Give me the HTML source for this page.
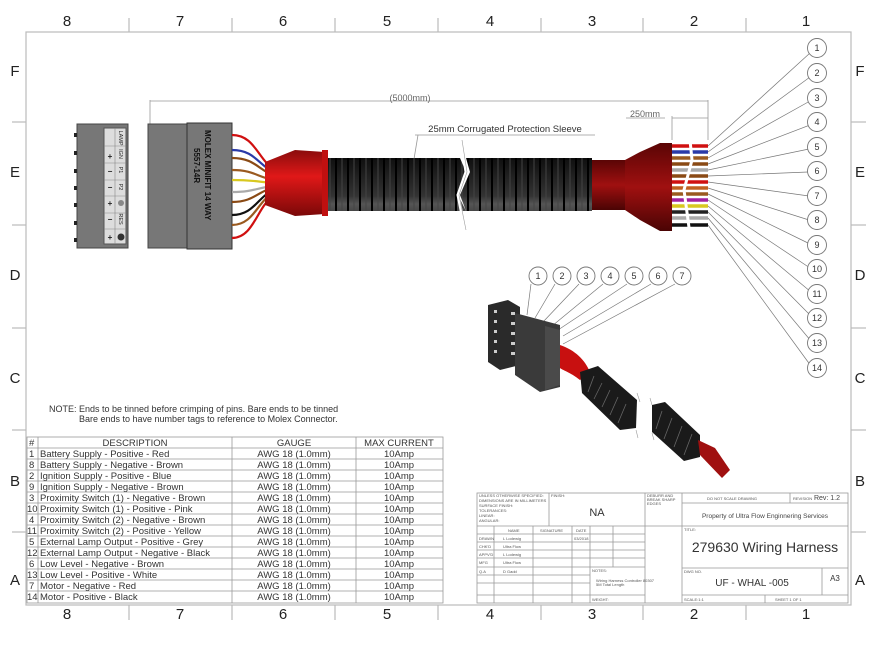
<!DOCTYPE html>
<html><head><meta charset="utf-8"><style>
body{margin:0;background:#fff;}
svg{display:block;font-family:"Liberation Sans",sans-serif;}
</style></head><body>
<svg width="875" height="659" viewBox="0 0 875 659" xmlns="http://www.w3.org/2000/svg">
<defs>
<linearGradient id="blk" x1="0" y1="0" x2="0" y2="1"><stop offset="0" stop-color="#111"/><stop offset="0.45" stop-color="#333"/><stop offset="0.55" stop-color="#555"/><stop offset="1" stop-color="#0a0a0a"/></linearGradient>
<linearGradient id="red" x1="0" y1="0" x2="0" y2="1"><stop offset="0" stop-color="#8a0c0c"/><stop offset="0.4" stop-color="#e01818"/><stop offset="1" stop-color="#7a0808"/></linearGradient>
<linearGradient id="dred" x1="0" y1="0" x2="0" y2="1"><stop offset="0" stop-color="#5a0505"/><stop offset="0.5" stop-color="#a01010"/><stop offset="1" stop-color="#4a0404"/></linearGradient>
<pattern id="corr" x="325" y="0" width="12" height="80" patternUnits="userSpaceOnUse"><rect width="12" height="80" fill="url(#blk)"/><line x1="11" y1="0" x2="11" y2="80" stroke="#000" stroke-width="2"/><line x1="5" y1="0" x2="5" y2="80" stroke="#444" stroke-width="1"/></pattern>
</defs>
<rect width="875" height="659" fill="#fff"/>
<g stroke="#bbb" fill="none" stroke-width="1.2">
<rect x="26" y="32" width="825" height="573"/>
<line x1="129" y1="18" x2="129" y2="32"/><line x1="232" y1="18" x2="232" y2="32"/><line x1="335" y1="18" x2="335" y2="32"/><line x1="438" y1="18" x2="438" y2="32"/><line x1="541" y1="18" x2="541" y2="32"/><line x1="643" y1="18" x2="643" y2="32"/><line x1="746" y1="18" x2="746" y2="32"/>
<line x1="129" y1="605" x2="129" y2="620"/><line x1="232" y1="605" x2="232" y2="620"/><line x1="335" y1="605" x2="335" y2="620"/><line x1="438" y1="605" x2="438" y2="620"/><line x1="541" y1="605" x2="541" y2="620"/><line x1="643" y1="605" x2="643" y2="620"/><line x1="746" y1="605" x2="746" y2="620"/>
<line x1="12" y1="122" x2="26" y2="122"/><line x1="12" y1="225" x2="26" y2="225"/><line x1="12" y1="328" x2="26" y2="328"/><line x1="12" y1="430" x2="26" y2="430"/><line x1="12" y1="532" x2="26" y2="532"/>
<line x1="851" y1="122" x2="866" y2="122"/><line x1="851" y1="225" x2="866" y2="225"/><line x1="851" y1="328" x2="866" y2="328"/><line x1="851" y1="430" x2="866" y2="430"/><line x1="851" y1="532" x2="866" y2="532"/>
</g>
<g font-size="15" fill="#222" text-anchor="middle">
<text x="67" y="26">8</text><text x="180" y="26">7</text><text x="283" y="26">6</text><text x="387" y="26">5</text><text x="490" y="26">4</text><text x="592" y="26">3</text><text x="694" y="26">2</text><text x="806" y="26">1</text>
<text x="67" y="619">8</text><text x="180" y="619">7</text><text x="283" y="619">6</text><text x="387" y="619">5</text><text x="490" y="619">4</text><text x="592" y="619">3</text><text x="694" y="619">2</text><text x="806" y="619">1</text>
<text x="15" y="76">F</text><text x="15" y="177">E</text><text x="15" y="280">D</text><text x="15" y="383">C</text><text x="15" y="486">B</text><text x="15" y="585">A</text>
<text x="860" y="76">F</text><text x="860" y="177">E</text><text x="860" y="280">D</text><text x="860" y="383">C</text><text x="860" y="486">B</text><text x="860" y="585">A</text>
</g>
<g stroke="#999" fill="none" stroke-width="0.8">
<line x1="150" y1="101" x2="708" y2="101"/><line x1="150" y1="100" x2="150" y2="125"/><line x1="708" y1="100" x2="708" y2="140"/>
<line x1="672" y1="118" x2="708" y2="118"/><line x1="626" y1="118" x2="665" y2="118"/><line x1="672" y1="116" x2="672" y2="140"/>
<line x1="415" y1="135" x2="595" y2="135"/><line x1="418" y1="135" x2="413" y2="165"/>
</g>
<text x="410" y="101" font-size="9" fill="#666" text-anchor="middle">(5000mm)</text>
<text x="645" y="117" font-size="9" fill="#666" text-anchor="middle">250mm</text>
<text x="505" y="132" font-size="9.5" fill="#333" text-anchor="middle">25mm Corrugated Protection Sleeve</text>
<rect x="77" y="124" width="51" height="124" fill="#777" stroke="#444"/>
<rect x="104" y="128" width="22" height="116" fill="#ddd" stroke="#555"/>
<g font-size="8" font-weight="bold" fill="#222" text-anchor="middle">
<text x="110" y="159">+</text><text x="110" y="174">−</text><text x="110" y="190">−</text><text x="110" y="206">+</text><text x="110" y="222">−</text><text x="110" y="240">+</text></g>
<g font-size="5.5" fill="#222" text-anchor="middle">
<text transform="translate(119,154) rotate(90)">IGN</text><text transform="translate(119,170) rotate(90)">P1</text><text transform="translate(119,187) rotate(90)">P2</text><text transform="translate(119,219) rotate(90)">RES</text><text transform="translate(119,138) rotate(90)">LAMP</text>
<circle cx="121" cy="237" r="3.5" fill="#333"/><circle cx="121" cy="203" r="3" fill="#888"/></g>
<g stroke="#888" stroke-width="0.6"><line x1="104" y1="146" x2="126" y2="146"/><line x1="104" y1="163" x2="126" y2="163"/><line x1="104" y1="180" x2="126" y2="180"/><line x1="104" y1="196" x2="126" y2="196"/><line x1="104" y1="213" x2="126" y2="213"/><line x1="104" y1="229" x2="126" y2="229"/><line x1="115" y1="128" x2="115" y2="244"/></g>
<g fill="#222"><rect x="74" y="133" width="3" height="4"/><rect x="74" y="151" width="3" height="4"/><rect x="74" y="169" width="3" height="4"/><rect x="74" y="186" width="3" height="4"/><rect x="74" y="203" width="3" height="4"/><rect x="74" y="221" width="3" height="4"/><rect x="74" y="238" width="3" height="4"/></g>
<rect x="148" y="124" width="40" height="124" fill="#777" stroke="#444"/>
<rect x="187" y="123" width="45" height="126" fill="#777" stroke="#333"/>
<text transform="translate(205,130) rotate(90)" font-size="8" font-weight="bold" fill="#111">MOLEX MINIFIT 14 WAY</text>
<text transform="translate(194,148) rotate(90)" font-size="8" font-weight="bold" fill="#111">5557-14R</text>
<g fill="none" stroke-width="2.2">
<path d="M232 135 C255 135 258 160 275 170" stroke="#d01010"/>
<path d="M232 150 C255 150 258 165 275 173" stroke="#2a3aa8"/>
<path d="M232 158 C255 158 258 170 275 176" stroke="#8a4a15"/>
<path d="M232 170 C255 170 258 178 275 180" stroke="#9a5a20"/>
<path d="M232 180 C255 180 258 182 275 183" stroke="#d8c820"/>
<path d="M232 192 C255 192 258 187 275 186" stroke="#aaa"/>
<path d="M232 202 C255 202 258 190 275 188" stroke="#8a4a15"/>
<path d="M232 215 C255 215 258 195 275 190" stroke="#111"/>
<path d="M232 225 C255 225 258 198 275 193" stroke="#9a5a20"/>
<path d="M232 238 C255 238 258 202 275 196" stroke="#d01010"/>
</g>
<path d="M265 162 L295 150 L325 152 L325 214 L295 216 L265 205 Z" fill="url(#red)"/>
<rect x="322" y="150" width="6" height="66" fill="#c01010"/>
<path d="M328 158 L460 158 L466 172 L458 195 L466 211 L328 211 Z" fill="url(#corr)"/>
<path d="M466 158 L592 158 L592 211 L466 211 L460 195 L470 172 Z" fill="url(#corr)"/>
<path d="M461 140 L466 172 L458 195 L465 230" stroke="#fff" stroke-width="3" fill="none"/>
<path d="M462 140 L467 172 L459 195 L466 230" stroke="#999" stroke-width="0.6" fill="none"/>
<rect x="592" y="160" width="35" height="50" fill="url(#dred)"/>
<path d="M625 160 L640 152 L660 143 L672 143 L672 231 L660 231 L640 220 L625 210 Z" fill="url(#dred)"/>
<g stroke-width="3.6">
<line x1="672" y1="146" x2="708" y2="146" stroke="#d01010"/>
<line x1="672" y1="152" x2="708" y2="152" stroke="#2a3aa8"/>
<line x1="672" y1="158" x2="708" y2="158" stroke="#9a5a20"/>
<line x1="672" y1="164" x2="708" y2="164" stroke="#8a4a15"/>
<line x1="672" y1="170" x2="708" y2="170" stroke="#aaa"/>
<line x1="672" y1="176" x2="708" y2="176" stroke="#8a4a15"/>
<line x1="672" y1="182" x2="708" y2="182" stroke="#d01010"/>
<line x1="672" y1="188" x2="708" y2="188" stroke="#c06020"/>
<line x1="672" y1="194" x2="708" y2="194" stroke="#9a5a20"/>
<line x1="672" y1="200" x2="708" y2="200" stroke="#a020a0"/>
<line x1="672" y1="206" x2="708" y2="206" stroke="#d8c820"/>
<line x1="672" y1="212" x2="708" y2="212" stroke="#222"/>
<line x1="672" y1="218" x2="708" y2="218" stroke="#aaa"/>
<line x1="672" y1="225" x2="708" y2="225" stroke="#111"/>
</g>
<path d="M690 140 L692 160 L684 190 L690 235" stroke="#fff" stroke-width="3" fill="none"/>
<g stroke="#777" stroke-width="0.7" fill="none">
<line x1="708" y1="146" x2="810" y2="53"/><line x1="708" y1="152" x2="810" y2="77"/><line x1="708" y1="158" x2="810" y2="101"/><line x1="708" y1="164" x2="810" y2="125"/><line x1="708" y1="170" x2="809" y2="149"/><line x1="708" y1="176" x2="808" y2="172"/><line x1="708" y1="182" x2="809" y2="196"/><line x1="708" y1="188" x2="809" y2="220"/><line x1="708" y1="194" x2="810" y2="244"/><line x1="708" y1="200" x2="810" y2="268"/><line x1="708" y1="206" x2="811" y2="292"/><line x1="708" y1="212" x2="811" y2="316"/><line x1="708" y1="218" x2="811" y2="341"/><line x1="708" y1="225" x2="811" y2="366"/>
</g>
<g fill="#fff" stroke="#777" stroke-width="0.9">
<circle cx="817" cy="48" r="9.5"/><circle cx="817" cy="73" r="9.5"/><circle cx="817" cy="98" r="9.5"/><circle cx="817" cy="122" r="9.5"/><circle cx="817" cy="147" r="9.5"/><circle cx="817" cy="171" r="9.5"/><circle cx="817" cy="196" r="9.5"/><circle cx="817" cy="220" r="9.5"/><circle cx="817" cy="245" r="9.5"/><circle cx="817" cy="269" r="9.5"/><circle cx="817" cy="294" r="9.5"/><circle cx="817" cy="318" r="9.5"/><circle cx="817" cy="343" r="9.5"/><circle cx="817" cy="368" r="9.5"/>
</g>
<g font-size="9" fill="#333" text-anchor="middle">
<text x="817" y="51">1</text><text x="817" y="76">2</text><text x="817" y="101">3</text><text x="817" y="125">4</text><text x="817" y="150">5</text><text x="817" y="174">6</text><text x="817" y="199">7</text><text x="817" y="223">8</text><text x="817" y="248">9</text><text x="817" y="272">10</text><text x="817" y="297">11</text><text x="817" y="321">12</text><text x="817" y="346">13</text><text x="817" y="371">14</text>
</g>
<g stroke="#777" stroke-width="0.7" fill="none">
<line x1="531" y1="284" x2="527" y2="315"/><line x1="555" y1="284" x2="535" y2="318"/><line x1="579" y1="284" x2="543" y2="322"/><line x1="603" y1="284" x2="552" y2="326"/><line x1="627" y1="284" x2="558" y2="330"/><line x1="651" y1="284" x2="563" y2="336"/><line x1="675" y1="284" x2="563" y2="344"/>
</g>
<g fill="#fff" stroke="#777" stroke-width="0.9">
<circle cx="538" cy="276" r="9"/><circle cx="562" cy="276" r="9"/><circle cx="586" cy="276" r="9"/><circle cx="610" cy="276" r="9"/><circle cx="634" cy="276" r="9"/><circle cx="658" cy="276" r="9"/><circle cx="682" cy="276" r="9"/>
</g>
<g font-size="9" fill="#333" text-anchor="middle"><text x="538" y="279">1</text><text x="562" y="279">2</text><text x="586" y="279">3</text><text x="610" y="279">4</text><text x="634" y="279">5</text><text x="658" y="279">6</text><text x="682" y="279">7</text></g>
<path d="M488 305 L508 300 L520 307 L520 365 L500 370 L488 362 Z" fill="#2a2a2a"/>
<path d="M515 313 L530 317 L560 325 L560 387 L540 392 L515 375 Z" fill="#3a3a3a"/>
<path d="M545 326 L560 330 L560 385 L545 390 Z" fill="#4a4a4a"/>
<g fill="#ccc"><rect x="494" y="310" width="3" height="3"/><rect x="494" y="320" width="3" height="3"/><rect x="494" y="330" width="3" height="3"/><rect x="494" y="340" width="3" height="3"/><rect x="494" y="350" width="3" height="3"/><rect x="511" y="312" width="4" height="3"/><rect x="511" y="322" width="4" height="3"/><rect x="511" y="332" width="4" height="3"/><rect x="511" y="342" width="4" height="3"/><rect x="511" y="352" width="4" height="3"/></g>
<path d="M560 345 C575 350 585 360 590 372 L580 380 C570 372 562 370 560 368 Z" fill="#c81010"/>
<path d="M580 372 L598 366 L637 400 L636 428 L620 430 L582 393 Z" fill="#1a1a1a"/>
<path d="M652 405 L665 402 L700 435 L700 457 L684 461 L652 432 Z" fill="#1a1a1a"/>
<path d="M698 440 L715 448 L730 470 L722 478 L700 455 Z" fill="#a01010"/>
<g stroke="#666" stroke-width="0.8"><line x1="594" y1="376" x2="588" y2="392"/><line x1="602" y1="383" x2="594" y2="399"/><line x1="610" y1="390" x2="602" y2="407"/><line x1="618" y1="397" x2="610" y2="415"/><line x1="626" y1="404" x2="618" y2="423"/><line x1="662" y1="411" x2="656" y2="429"/><line x1="672" y1="418" x2="664" y2="439"/><line x1="682" y1="426" x2="674" y2="447"/><line x1="692" y1="434" x2="684" y2="455"/></g>
<g stroke="#999" stroke-width="0.6"><line x1="637" y1="393" x2="640" y2="402"/><line x1="636" y1="430" x2="638" y2="438"/><line x1="650" y1="398" x2="652" y2="405"/><line x1="652" y1="433" x2="654" y2="440"/></g>
<text x="49" y="412" font-size="9" fill="#333">NOTE: Ends to be tinned before crimping of pins. Bare ends to be tinned</text>
<text x="79" y="422" font-size="9" fill="#333">Bare ends to have number tags to reference to Molex Connector.</text>
<g stroke="#999" stroke-width="0.8" fill="none">
<rect x="27" y="437" width="416" height="166"/>
<line x1="38" y1="437" x2="38" y2="603"/><line x1="232" y1="437" x2="232" y2="603"/><line x1="356" y1="437" x2="356" y2="603"/>
<line x1="27" y1="448" x2="443" y2="448"/><line x1="27" y1="459" x2="443" y2="459"/><line x1="27" y1="470" x2="443" y2="470"/><line x1="27" y1="481" x2="443" y2="481"/><line x1="27" y1="492" x2="443" y2="492"/><line x1="27" y1="503" x2="443" y2="503"/><line x1="27" y1="514" x2="443" y2="514"/><line x1="27" y1="525" x2="443" y2="525"/><line x1="27" y1="536" x2="443" y2="536"/><line x1="27" y1="547" x2="443" y2="547"/><line x1="27" y1="558" x2="443" y2="558"/><line x1="27" y1="569" x2="443" y2="569"/><line x1="27" y1="580" x2="443" y2="580"/><line x1="27" y1="591" x2="443" y2="591"/>
</g>
<g font-size="9.5" fill="#333">
<text x="29" y="446">#</text><text x="135" y="446" text-anchor="middle">DESCRIPTION</text><text x="294" y="446" text-anchor="middle">GAUGE</text><text x="399" y="446" text-anchor="middle">MAX CURRENT</text>
<text x="29" y="457">1</text><text x="40" y="457">Battery Supply - Positive - Red</text>
<text x="29" y="468">8</text><text x="40" y="468">Battery Supply - Negative - Brown</text>
<text x="29" y="479">2</text><text x="40" y="479">Ignition Supply - Positive - Blue</text>
<text x="29" y="490">9</text><text x="40" y="490">Ignition Supply - Negative - Brown</text>
<text x="29" y="501">3</text><text x="40" y="501">Proximity Switch (1) - Negative - Brown</text>
<text x="27" y="512">10</text><text x="40" y="512">Proximity Switch (1) - Positive - Pink</text>
<text x="29" y="523">4</text><text x="40" y="523">Proximity Switch (2) - Negative - Brown</text>
<text x="27" y="534">11</text><text x="40" y="534">Proximity Switch (2) - Positive - Yellow</text>
<text x="29" y="545">5</text><text x="40" y="545">External Lamp Output - Positive - Grey</text>
<text x="27" y="556">12</text><text x="40" y="556">External Lamp Output - Negative - Black</text>
<text x="29" y="567">6</text><text x="40" y="567">Low Level - Negative - Brown</text>
<text x="27" y="578">13</text><text x="40" y="578">Low Level - Positive - White</text>
<text x="29" y="589">7</text><text x="40" y="589">Motor - Negative - Red</text>
<text x="27" y="600">14</text><text x="40" y="600">Motor - Positive - Black</text>
</g>
<g font-size="9.5" fill="#333" text-anchor="middle">
<text x="294" y="457">AWG 18 (1.0mm)</text><text x="294" y="468">AWG 18 (1.0mm)</text><text x="294" y="479">AWG 18 (1.0mm)</text><text x="294" y="490">AWG 18 (1.0mm)</text><text x="294" y="501">AWG 18 (1.0mm)</text><text x="294" y="512">AWG 18 (1.0mm)</text><text x="294" y="523">AWG 18 (1.0mm)</text><text x="294" y="534">AWG 18 (1.0mm)</text><text x="294" y="545">AWG 18 (1.0mm)</text><text x="294" y="556">AWG 18 (1.0mm)</text><text x="294" y="567">AWG 18 (1.0mm)</text><text x="294" y="578">AWG 18 (1.0mm)</text><text x="294" y="589">AWG 18 (1.0mm)</text><text x="294" y="600">AWG 18 (1.0mm)</text>
<text x="399" y="457">10Amp</text><text x="399" y="468">10Amp</text><text x="399" y="479">10Amp</text><text x="399" y="490">10Amp</text><text x="399" y="501">10Amp</text><text x="399" y="512">10Amp</text><text x="399" y="523">10Amp</text><text x="399" y="534">10Amp</text><text x="399" y="545">10Amp</text><text x="399" y="556">10Amp</text><text x="399" y="567">10Amp</text><text x="399" y="578">10Amp</text><text x="399" y="589">10Amp</text><text x="399" y="600">10Amp</text>
</g>
<g stroke="#999" stroke-width="0.8" fill="none">
<rect x="477" y="493" width="371" height="110"/>
<line x1="549" y1="493" x2="549" y2="526"/><line x1="645" y1="493" x2="645" y2="603"/><line x1="682" y1="493" x2="682" y2="603"/>
<line x1="682" y1="503" x2="848" y2="503"/><line x1="790" y1="493" x2="790" y2="503"/>
<line x1="477" y1="526" x2="848" y2="526"/><line x1="682" y1="568" x2="848" y2="568"/><line x1="682" y1="595" x2="848" y2="595"/><line x1="822" y1="568" x2="822" y2="595"/><line x1="765" y1="595" x2="765" y2="603"/>
<line x1="477" y1="534" x2="645" y2="534"/><line x1="477" y1="542" x2="645" y2="542"/><line x1="477" y1="550" x2="645" y2="550"/><line x1="477" y1="558" x2="645" y2="558"/><line x1="477" y1="567" x2="645" y2="567"/><line x1="477" y1="575" x2="590" y2="575"/><line x1="477" y1="583" x2="590" y2="583"/><line x1="477" y1="595" x2="645" y2="595"/>
<line x1="494" y1="526" x2="494" y2="603"/><line x1="533" y1="526" x2="533" y2="603"/><line x1="572" y1="526" x2="572" y2="603"/><line x1="590" y1="526" x2="590" y2="603"/><line x1="613" y1="526" x2="613" y2="567"/>
</g>
<g font-size="4" fill="#555">
<text x="479" y="497">UNLESS OTHERWISE SPECIFIED:</text><text x="479" y="502">DIMENSIONS ARE IN MILLIMETERS</text><text x="479" y="507">SURFACE FINISH:</text><text x="479" y="512">TOLERANCES:</text><text x="479" y="517">LINEAR:</text><text x="479" y="522">ANGULAR:</text>
<text x="551" y="497">FINISH:</text><text x="647" y="497">DEBURR AND</text><text x="647" y="501">BREAK SHARP</text><text x="647" y="505">EDGES</text>
<text x="707" y="500">DO NOT SCALE DRAWING</text><text x="793" y="500">REVISION</text>
<text x="684" y="531">TITLE:</text><text x="684" y="573">DWG NO.</text><text x="684" y="601">SCALE:1:1</text><text x="775" y="601">SHEET 1 OF 1</text>
<text x="508" y="532">NAME</text><text x="540" y="532">SIGNATURE</text><text x="576" y="532">DATE</text>
<text x="479" y="540">DRAWN</text><text x="503" y="540">L Lodewig</text><text x="574" y="540">03/2018</text>
<text x="479" y="548">CHK'D</text><text x="503" y="548">Ultra Flow</text>
<text x="479" y="556">APPV'D</text><text x="503" y="556">L Lodewig</text>
<text x="479" y="564">MFG</text><text x="503" y="564">Ultra Flow</text>
<text x="479" y="573">Q.A</text><text x="503" y="573">D Gadd</text>
<text x="592" y="572">NOTES:</text><text x="596" y="582">Wiring Harness Controller 80307</text><text x="596" y="586">5M Total Length</text>
<text x="592" y="601">WEIGHT:</text>
</g>
<text x="597" y="516" font-size="11" fill="#333" text-anchor="middle">NA</text>
<text x="827" y="500" font-size="7" fill="#444" text-anchor="middle">Rev: 1.2</text>
<text x="765" y="518" font-size="6.5" fill="#444" text-anchor="middle">Property of Ultra Flow Enginnering Services</text>
<text x="765" y="552" font-size="14" fill="#333" text-anchor="middle">279630 Wiring Harness</text>
<text x="752" y="586" font-size="10" fill="#333" text-anchor="middle">UF - WHAL -005</text>
<text x="835" y="581" font-size="8" fill="#333" text-anchor="middle">A3</text>
</svg>
</body></html>
